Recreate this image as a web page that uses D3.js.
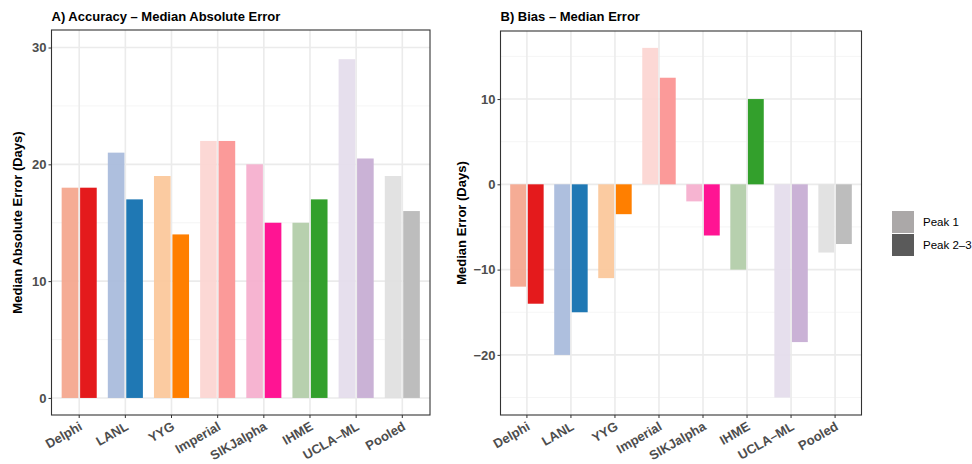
<!DOCTYPE html>
<html>
<head>
<meta charset="utf-8">
<script src="https://cdn.jsdelivr.net/npm/d3@7"></script>
<style>
  body { margin: 0; background: #fff; }
  svg text { font-family: "Liberation Sans", Arial, Helvetica, sans-serif; }
</style>
</head>
<body>
<div id="chart"></div>
<script>
// Data
const models = ["Delphi", "LANL", "YYG", "Imperial", "SIKJalpha", "IHME", "UCLA\u2013ML", "Pooled"];
const maePeak1 = [18, 21, 19, 22, 20, 15, 29, 19];
const maePeak23 = [18, 17, 14, 22, 15, 17, 20.5, 16];
const biasPeak1 = [-12, -20, -11, 16, -2, -10, -25, -8];
const biasPeak23 = [-14, -15, -3.5, 12.5, -6, 10, -18.5, -7];
const colorsPeak1 = ["#F4A58C", "#A7BADB", "#FBC799", "#FCD5D1", "#F5AECD", "#B1CCA7", "#E4DCEC", "#E0E0E0"];
const colorsPeak23 = ["#E41A1C", "#1F78B4", "#FF7F00", "#FB9A99", "#FF1493", "#33A02C", "#CAB2D6", "#BDBDBD"];
const peaks = ["Peak 1", "Peak 2\u20133"];
const legendColors = ["#ABA8A8", "#5A5A5A"];
const maeTicks = [0, 10, 20, 30];
const maeMinor = [5, 15, 25];
const biasTicks = [-20, -10, 0, 10];
const biasMinor = [-25, -15, -5, 5, 15];

const svg = d3.select("#chart").append("svg")
  .attr("width", 972)
  .attr("height", 464);

const fmt = d => d < 0 ? "\u2212" + Math.abs(d) : String(d);

function panel(opts) {
  const {left, right, top, bottom, domain, p1, p2, ticks, minor, title, ylab, ylabX} = opts;

  // ggplot-like discrete axis: 0.6 category expansion on each side
  const x = d3.scaleBand()
    .domain(models)
    .range([left, right])
    .paddingInner(0)
    .paddingOuter(0.1);
  const s = x.step();

  const y = d3.scaleLinear().domain(domain).range([bottom, top]);

  const g = svg.append("g");

  // grid
  g.selectAll(".minor").data(minor).enter().append("line")
    .attr("x1", left).attr("x2", right)
    .attr("y1", d => y(d)).attr("y2", d => y(d))
    .attr("stroke", "#F2F2F2").attr("stroke-width", 0.8);
  g.selectAll(".major").data(ticks).enter().append("line")
    .attr("x1", left).attr("x2", right)
    .attr("y1", d => y(d)).attr("y2", d => y(d))
    .attr("stroke", "#EBEBEB").attr("stroke-width", 1.6);
  g.selectAll(".vgrid").data(models).enter().append("line")
    .attr("x1", d => x(d) + s / 2).attr("x2", d => x(d) + s / 2)
    .attr("y1", top).attr("y2", bottom)
    .attr("stroke", "#EBEBEB").attr("stroke-width", 1.6);

  // bars
  const sub = d3.scaleBand().domain([0, 1]).paddingInner(0.1).paddingOuter(0);
  const rows = [];
  models.forEach((m, i) => {
    rows.push({m, k: 0, v: p1[i], c: colorsPeak1[i]});
    rows.push({m, k: 1, v: p2[i], c: colorsPeak23[i]});
  });
  g.selectAll(".bar").data(rows).enter().append("rect")
    .attr("x", d => {
      const c = x(d.m) + s / 2;
      sub.range([c - 0.38 * s, c + 0.38 * s]);
      return sub(d.k);
    })
    .attr("width", () => sub.bandwidth())
    .attr("y", d => y(Math.max(0, d.v)))
    .attr("height", d => Math.abs(y(d.v) - y(0)))
    .attr("fill", d => d.c)
    .attr("fill-opacity", d => d.k === 0 ? 0.92 : 1);

  // border
  g.append("rect")
    .attr("x", left).attr("y", top)
    .attr("width", right - left).attr("height", bottom - top)
    .attr("fill", "none").attr("stroke", "#333333").attr("stroke-width", 1.1);

  // y axis
  const ya = g.append("g").attr("transform", `translate(${left},0)`)
    .call(d3.axisLeft(y).tickValues(ticks).tickSize(3).tickPadding(2).tickFormat(fmt));
  ya.select(".domain").remove();
  ya.selectAll("line").attr("stroke", "#333333");
  ya.selectAll("text")
    .attr("fill", "#4D4D4D").style("font-size", "13px").style("font-weight", "bold");

  // x axis
  const xa = g.append("g").attr("transform", `translate(0,${bottom})`)
    .call(d3.axisBottom(x).tickSize(3).tickPadding(3));
  xa.select(".domain").remove();
  xa.selectAll("line").attr("stroke", "#333333");
  xa.selectAll("text")
    .attr("fill", "#4D4D4D").style("font-size", "13px").style("font-weight", "bold")
    .attr("text-anchor", "end")
    .attr("dy", null)
    .attr("transform", "translate(4,14) rotate(-30)")
    .attr("y", 0);

  // titles
  svg.append("text")
    .attr("x", left).attr("y", 21)
    .style("font-size", "13px").style("font-weight", "bold")
    .attr("fill", "#000").text(title);
  svg.append("text")
    .attr("transform", `translate(${ylabX},${(top + bottom) / 2}) rotate(-90)`)
    .attr("text-anchor", "middle")
    .style("font-size", "13px").style("font-weight", "bold")
    .attr("fill", "#000").text(ylab);
}

panel({
  left: 51.5, right: 430, top: 30, bottom: 415,
  domain: [-1.46, 31.5], p1: maePeak1, p2: maePeak23,
  ticks: maeTicks, minor: maeMinor,
  title: "A) Accuracy \u2013 Median Absolute Error",
  ylab: "Median Absolute Error (Days)", ylabX: 22
});

panel({
  left: 500.5, right: 861.5, top: 31, bottom: 415,
  domain: [-27.05, 17.98], p1: biasPeak1, p2: biasPeak23,
  ticks: biasTicks, minor: biasMinor,
  title: "B) Bias \u2013 Median Error",
  ylab: "Median Error (Days)", ylabX: 466
});

// legend
const leg = svg.append("g").attr("transform", "translate(892,211)");
leg.selectAll("rect").data(peaks).enter().append("rect")
  .attr("x", 0).attr("y", (d, i) => i * 23)
  .attr("width", 22).attr("height", 22)
  .attr("fill", (d, i) => legendColors[i]);
leg.selectAll("text").data(peaks).enter().append("text")
  .attr("x", 31).attr("y", (d, i) => i * 23 + 15)
  .style("font-size", "11.5px")
  .attr("fill", "#000").text(d => d);
</script>
</body>
</html>
